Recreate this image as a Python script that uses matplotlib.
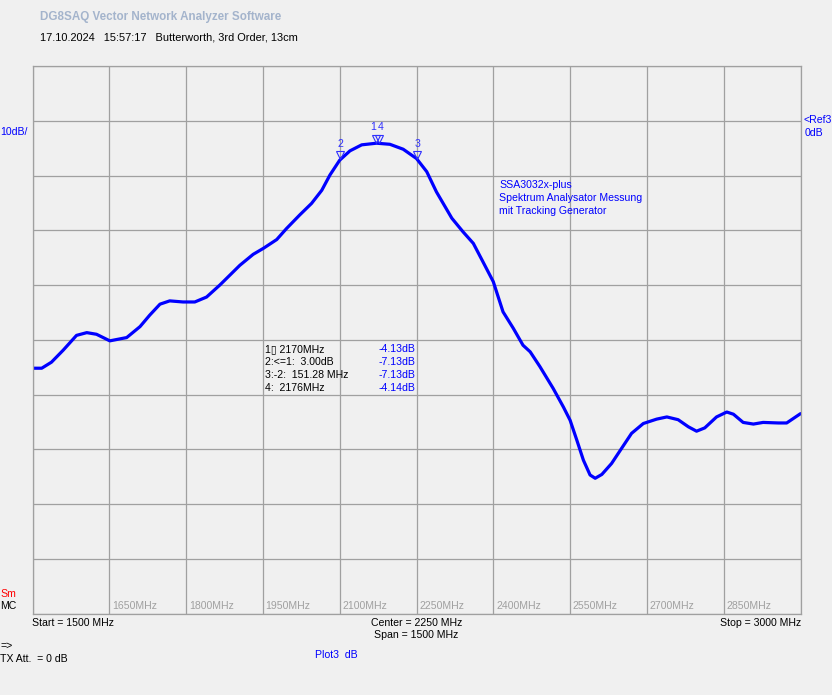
import numpy as np
import matplotlib
matplotlib.use("Agg")
import matplotlib.pyplot as plt
import matplotlib.transforms as mtransforms

# measured trace (Plot3), frequency in MHz, level in dB
freq_mhz = [1500, 1518, 1537, 1560, 1586, 1606, 1625, 1651, 1684, 1710,
            1729, 1749, 1768, 1794, 1817, 1840, 1866, 1905, 1931, 1951,
            1977, 1996, 2022, 2045, 2065, 2081, 2100, 2120, 2143, 2172,
            2198, 2224, 2250, 2270, 2289, 2319, 2341, 2361, 2380, 2400,
            2419, 2439, 2458, 2472, 2491, 2517, 2537, 2550, 2563, 2576,
            2589, 2599, 2612, 2631, 2648, 2670, 2693, 2719, 2739, 2761,
            2781, 2797, 2813, 2836, 2856, 2869, 2888, 2908, 2927, 2957,
            2973, 3000]
level_db = [-45.2, -45.2, -44.1, -41.9, -39.2, -38.7, -39.0, -40.2, -39.6, -37.6,
            -35.5, -33.5, -32.9, -33.1, -33.1, -32.2, -30.0, -26.4, -24.4, -23.3,
            -21.7, -19.7, -17.2, -15.1, -12.7, -9.9, -7.2, -5.5, -4.4, -4.1,
            -4.3, -5.2, -6.9, -9.3, -13.0, -17.8, -20.3, -22.4, -25.8, -29.4,
            -34.9, -37.9, -41.0, -42.2, -44.9, -48.9, -52.3, -54.7, -58.3, -62.0,
            -64.7, -65.3, -64.6, -62.6, -60.2, -57.1, -55.3, -54.5, -54.1, -54.6,
            -55.9, -56.7, -56.1, -54.1, -53.2, -53.6, -55.1, -55.4, -55.1, -55.2,
            -55.2, -53.5]

# markers
marker_ids = ["1", "2", "3", "4"]
marker_freq = [2170, 2100.5, 2251.8, 2176]
marker_db = [-4.13, -7.13, -7.13, -4.14]

table_left = ["1\u25af 2170MHz", "2:<=1:  3.00dB", "3:-2:  151.28 MHz", "4:  2176MHz"]
table_right = ["-4.13dB", "-7.13dB", "-7.13dB", "-4.14dB"]

grid_freqs = np.arange(1500, 3001, 150)
label_freqs = grid_freqs[1:-1]
db_lines = np.arange(-90, 11, 10)

note_lines = ["SSA3032x-plus", "Spektrum Analysator Messung", "mit Tracking Generator"]

W, H = 832, 695
BG = "#f0f0f0"
GRID = "#a0a0a0"
FONT = "Liberation Sans"
FS = 7.6

fig = plt.figure(figsize=(W / 100, H / 100), dpi=100, facecolor=BG)
ax = fig.add_axes([32.5 / W, 1 - 613.5 / H, 768 / W, 547.5 / H])
ax.set_facecolor(BG)

ax.set_xlim(1500, 3000)
ax.set_ylim(-90, 10)
ax.set_xticks(grid_freqs)
ax.set_yticks(db_lines)
ax.tick_params(length=0, labelbottom=False, labelleft=False)
ax.grid(True, color=GRID, linewidth=0.9)
for s in ax.spines.values():
    s.set_color(GRID)
    s.set_linewidth(0.9)

ax.plot(freq_mhz, level_db, color="#0000ff", linewidth=2.3,
        solid_joinstyle="round", solid_capstyle="round")

# marker triangles + numbers just above the trace
# markers 1 and 4 sit almost on top of each other -> nudge the numbers apart
label_dx = {"1": -1.5, "4": 1.5}
tri_off = mtransforms.offset_copy(ax.transData, fig=fig, x=0, y=4.5, units="dots")
for mid, f, d in zip(marker_ids, marker_freq, marker_db):
    ax.plot([f], [d], marker="v", markersize=6, markerfacecolor="none",
            markeredgecolor="#3030ff", markeredgewidth=0.8, transform=tri_off)
    ax.annotate(mid, xy=(f, d), xytext=(label_dx.get(mid, 0), 8),
                textcoords="offset points", ha="center", va="bottom",
                color="#3030ff", fontsize=FS, family=FONT)

# frequency labels inside the plot bottom
xt = ax.get_xaxis_transform()
for f in label_freqs:
    ax.annotate("%dMHz" % f, xy=(f, 0), xycoords=xt, xytext=(2, 2),
                textcoords="offset points", ha="left", va="bottom",
                color=GRID, fontsize=FS, family=FONT)

def ftxt(x, y, s, **kw):
    kw.setdefault("fontsize", FS)
    kw.setdefault("family", FONT)
    kw.setdefault("va", "center")
    fig.text(x / W, 1 - y / H, s, **kw)

ftxt(40, 17, "DG8SAQ Vector Network Analyzer Software", color="#a4b4cc",
     fontweight="bold", fontsize=8.4)
ftxt(40, 37, "17.10.2024   15:57:17   Butterworth, 3rd Order, 13cm", color="black",
     fontsize=7.9)

ftxt(0, 132, "10dB/", color="#0000ff")
ftxt(803, 120, "<Ref3", color="#0000ff")
ftxt(805, 133, "0dB", color="#0000ff")

ftxt(0, 594, "Sm", color="#ff0000")
ftxt(0, 606, "MC", color="black")
ftxt(32, 623, "Start = 1500 MHz", color="black")
ftxt(371, 623, "Center = 2250 MHz", color="black")
ftxt(374, 635, "Span = 1500 MHz", color="black")
ftxt(801, 623, "Stop = 3000 MHz", color="black", ha="right")
ftxt(0, 646, "=>", color="black")
ftxt(0, 659, "TX Att.  = 0 dB", color="black")
ftxt(315, 655, "Plot3  dB", color="#0000ff")

for i, (l, r) in enumerate(zip(table_left, table_right)):
    y = 349 + 13 * i
    ftxt(265, y, l, color="black", family=[FONT, "DejaVu Sans"])
    ftxt(415, y, r, color="#0000ff", ha="right")

for i, s in enumerate(note_lines):
    ftxt(499, 185 + 13 * i, s, color="#0000ff")

fig.savefig("out.png", dpi=100, facecolor=BG)
